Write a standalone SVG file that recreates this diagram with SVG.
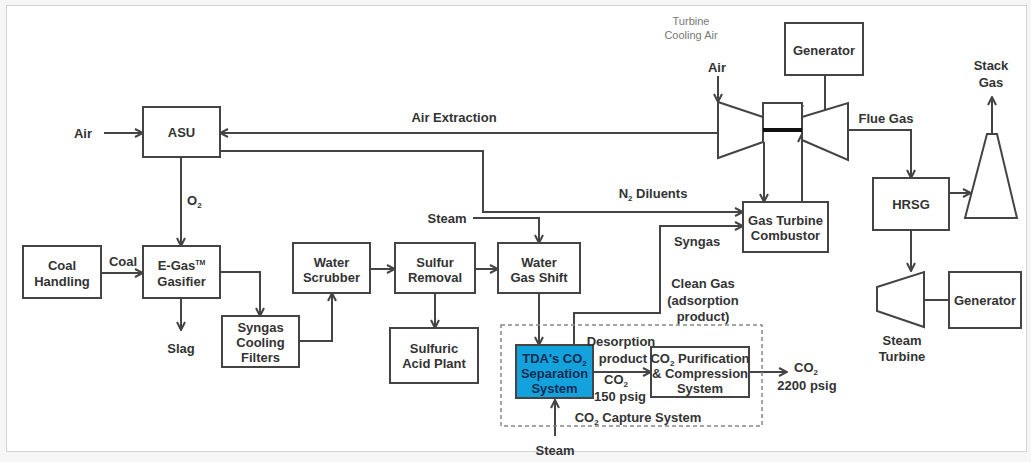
<svg xmlns="http://www.w3.org/2000/svg" width="1031" height="462" viewBox="0 0 1031 462">
<defs>
<style>
.box{fill:#fff;stroke:#444;stroke-width:2}
.ln{fill:none;stroke:#444;stroke-width:2}
.ar{marker-end:url(#ah)}
.t{font-family:"Liberation Sans",Arial,sans-serif;font-weight:bold;font-size:13px;fill:#333;text-anchor:middle}
.s{font-family:"Liberation Sans",Arial,sans-serif;font-size:11px;fill:#777;text-anchor:middle}
.sub{font-size:8px}
</style>
<marker id="ah" viewBox="0 0 10 10" refX="9" refY="5" markerWidth="10" markerHeight="10" markerUnits="userSpaceOnUse" orient="auto">
<path d="M1,1 L9,5 L1,9" fill="none" stroke="#444" stroke-width="2"/>
</marker>
</defs>
<rect x="0" y="0" width="1031" height="462" fill="#f6f6f6"/>
<rect x="6.5" y="5.5" width="1020" height="446" fill="#fff" stroke="#d2d2d2" stroke-width="1"/>

<g id="connectors">
<path class="ln ar" d="M104,133 H143"/>
<path class="ln ar" d="M718,133 H220"/>
<path class="ln ar" d="M220,151 H483 V212 H743"/>
<path class="ln ar" d="M181,157 V246"/>
<path class="ln ar" d="M101,273 H143"/>
<path class="ln ar" d="M181,298 V330"/>
<path class="ln ar" d="M220,272 H260 V316"/>
<path class="ln ar" d="M299,341 H332 V293"/>
<path class="ln ar" d="M370,269 H395"/>
<path class="ln ar" d="M475,269 H498"/>
<path class="ln ar" d="M435,293 V328"/>
<path class="ln ar" d="M473,218 H539 V243"/>
<path class="ln ar" d="M539,293 V345"/>
<path class="ln ar" d="M574,345 V313 H660 V226 H743"/>
<path class="ln ar" d="M593,372 H651"/>
<path class="ln ar" d="M749,372 H787"/>
<path class="ln ar" d="M555,436 V400"/>
<path class="ln ar" d="M718,76 V102"/>
<path class="ln ar" d="M764,142 V202"/>
<path class="ln ar" d="M802,202 V134"/>
<path class="ln ar" d="M799,103 V113"/>
<path class="ln" d="M825,75 V110"/>
<path class="ln ar" d="M848,130 H911 V178"/>
<path class="ln ar" d="M949,193 H971"/>
<path class="ln ar" d="M992,134 V97"/>
<path class="ln ar" d="M911,230 V271"/>
<path class="ln" d="M924,300 H949"/>
</g>

<g id="capture-system">
<rect x="501" y="325" width="261" height="101" fill="none" stroke="#888" stroke-width="1.5" stroke-dasharray="4,3"/>
<text class="t" x="638" y="421.5">CO<tspan class="sub" dy="3">2</tspan><tspan dy="-3"> Capture System</tspan></text>
</g>

<g id="asu"><rect class="box" x="143" y="107" width="77" height="50"/><text class="t" x="181.5" y="137">ASU</text></g>
<g id="coal-handling"><rect class="box" x="23" y="246" width="78" height="52"/><text class="t" x="62" y="269.5">Coal</text><text class="t" x="62" y="285.5">Handling</text></g>
<g id="gasifier"><rect class="box" x="143" y="246" width="77" height="52"/><text class="t" x="181.5" y="269.5">E-Gas<tspan font-size="7" dy="-5">TM</tspan></text><text class="t" x="181.5" y="285.5">Gasifier</text></g>
<g id="syngas-cooling"><rect class="box" x="222" y="316" width="77" height="51"/><text class="t" x="260.5" y="331.5">Syngas</text><text class="t" x="260.5" y="346.5">Cooling</text><text class="t" x="260.5" y="361.5">Filters</text></g>
<g id="water-scrubber"><rect class="box" x="293" y="243" width="77" height="50"/><text class="t" x="331.5" y="266.5">Water</text><text class="t" x="331.5" y="281.5">Scrubber</text></g>
<g id="sulfur-removal"><rect class="box" x="395" y="243" width="80" height="50"/><text class="t" x="435" y="266.5">Sulfur</text><text class="t" x="435" y="281.5">Removal</text></g>
<g id="sulfuric-acid"><rect class="box" x="390" y="328" width="88" height="55"/><text class="t" x="434" y="352.5">Sulfuric</text><text class="t" x="434" y="367.5">Acid Plant</text></g>
<g id="water-gas-shift"><rect class="box" x="498" y="243" width="82" height="50"/><text class="t" x="539" y="266.5">Water</text><text class="t" x="539" y="281.5">Gas Shift</text></g>
<g id="tda"><rect x="516" y="345" width="77" height="53" fill="#14a2dc" stroke="#444" stroke-width="2"/>
<text class="t" x="554.5" y="362.5" style="fill:#0f2c52">TDA's CO<tspan class="sub" dy="3">2</tspan></text>
<text class="t" x="554.5" y="377.5" style="fill:#0f2c52">Separation</text>
<text class="t" x="554.5" y="392.5" style="fill:#0f2c52">System</text></g>
<g id="co2-purification"><rect class="box" x="651" y="347" width="98" height="50" style="fill:none"/>
<text class="t" x="700" y="362.5">CO<tspan class="sub" dy="3">2</tspan><tspan dy="-3"> Purification</tspan></text>
<text class="t" x="700" y="377.5">&amp; Compression</text>
<text class="t" x="700" y="392.5">System</text></g>
<g id="gt-combustor"><rect class="box" x="743" y="202" width="85" height="50"/><text class="t" x="785.5" y="224.5">Gas Turbine</text><text class="t" x="785.5" y="239.5">Combustor</text></g>
<g id="generator-1"><rect class="box" x="785" y="23" width="78" height="52"/><text class="t" x="824" y="54.5">Generator</text></g>
<g id="gas-turbine">
<polygon class="box" points="718,102 763,117 763,142 718,158"/>
<polygon class="box" points="802,117 848,103 848,160 802,140"/>
<rect x="763" y="103" width="39" height="27" fill="#fff" stroke="#444" stroke-width="2"/>
<line x1="763" y1="130" x2="802" y2="130" stroke="#111" stroke-width="4"/>
</g>
<g id="hrsg"><rect class="box" x="873" y="178" width="76" height="52"/><text class="t" x="911" y="208.5">HRSG</text></g>
<g id="stack"><polygon class="box" points="987,134 997,134 1017,218 965,218"/></g>
<g id="steam-turbine"><polygon class="box" points="877,287 924,272 924,327 877,311"/></g>
<g id="generator-2"><rect class="box" x="949" y="272" width="72" height="56"/><text class="t" x="985" y="304.5">Generator</text></g>

<g id="labels">
<text class="t" x="83" y="137.5">Air</text>
<text class="t" x="454" y="121.5">Air Extraction</text>
<text class="t" x="187" y="204.5" text-anchor="start" style="text-anchor:start">O<tspan class="sub" dy="3">2</tspan></text>
<text class="t" x="123" y="265.5">Coal</text>
<text class="t" x="181" y="352.5">Slag</text>
<text class="t" x="653" y="197.5">N<tspan class="sub" dy="3">2</tspan><tspan dy="-3"> Diluents</tspan></text>
<text class="t" x="447" y="222.5">Steam</text>
<text class="t" x="697" y="245.5">Syngas</text>
<text class="t" x="703" y="287.5">Clean Gas</text>
<text class="t" x="703" y="304.5">(adsorption</text>
<text class="t" x="703" y="320.5">product)</text>
<text class="t" x="621" y="345.5">Desorption</text>
<text class="t" x="623" y="362.5">product</text>
<text class="t" x="616" y="384">CO<tspan class="sub" dy="3">2</tspan></text>
<text class="t" x="620" y="400.5">150 psig</text>
<text class="t" x="806" y="372">CO<tspan class="sub" dy="3">2</tspan></text>
<text class="t" x="807" y="389.5">2200 psig</text>
<text class="t" x="555" y="454.5">Steam</text>
<text class="s" x="691" y="25">Turbine</text>
<text class="s" x="691" y="39">Cooling Air</text>
<text class="t" x="717" y="71.5">Air</text>
<text class="t" x="886" y="122.5">Flue Gas</text>
<text class="t" x="991" y="69.5">Stack</text>
<text class="t" x="991" y="86.5">Gas</text>
<text class="t" x="902" y="344.5">Steam</text>
<text class="t" x="902" y="360.5">Turbine</text>
</g>
</svg>
